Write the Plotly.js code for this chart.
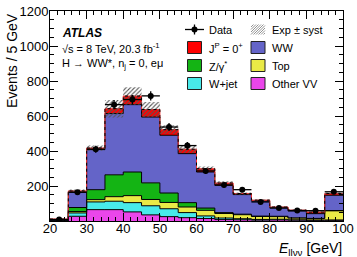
<!DOCTYPE html>
<html>
<head>
<meta charset="utf-8">
<script src="https://cdn.plot.ly/plotly-3.0.1.min.js"></script>
<style>
html,body{margin:0;padding:0;background:#fff;}
#chart{width:357px;height:257px;}
</style>
</head>
<body>
<div id="chart"></div>
<script>
// ---- data (Events / 5 GeV) ----
const binLow   = [20, 25, 30, 35, 40, 45, 50, 55, 60, 65, 70, 75, 80, 85, 90, 95];
const binWidth = 5;
const otherVV  = [2, 27, 65, 65, 52, 35, 25, 19, 14, 8, 7, 5, 6, 5, 4, 4];
const wjet     = [1, 19, 44, 48, 53, 52, 45, 29, 15, 9, 6, 4, 4, 2, 2, 2];
const topq     = [0.5, 8, 13, 26, 40, 36, 36, 32, 32, 26, 23, 17, 15, 10, 8, 52];
const zgamma   = [1.5, 23, 57, 125, 135, 95, 54, 25, 13, 5, 3, 2, 2, 1, 1, 2];
const ww       = [5, 89, 229, 350, 385, 376, 330, 280, 206, 156, 112, 86, 49, 39, 27, 87];
const sigJP    = [1, 6, 9, 28, 49, 43, 32, 25, 19, 13, 6, 5, 4, 5, 9, 10];
const dataVals = [8, 164, 410, 665, 694, 715, 537, 431, 286, 206, 179, 109, 74, 60, 59, 167];
const dataErr  = [3, 13, 20, 26, 26, 27, 23, 21, 17, 14, 13, 10, 9, 8, 8, 13];
const systErr  = [2, 8, 15, 50, 50, 43, 25, 22, 13, 10, 6, 4, 3, 3, 3, 6];
const xTickVals = [20, 30, 40, 50, 60, 70, 80, 90, 100];
const yTickVals = [0, 200, 400, 600, 800, 1000, 1200];
const yTickText = ['', '200', '400', '600', '800', '1000', '1200'];

const FONT = 'Liberation Sans, Arial, Helvetica, sans-serif';
const n = binLow.length;
const xStep = binLow.concat([binLow[n - 1] + binWidth]);
const ext = a => a.concat([a[a.length - 1]]);

function stackTrace(vals, color, lineColor) {
  return {
    x: xStep, y: ext(vals), type: 'scatter', mode: 'lines',
    stackgroup: 'bkg',
    line: {shape: 'hv', color: lineColor || '#000', width: 1},
    fillcolor: color, hoverinfo: 'skip'
  };
}

const total = binLow.map((_, i) => otherVV[i] + wjet[i] + topq[i] + zgamma[i] + ww[i] + sigJP[i]);
const bandLo = total.map((t, i) => t - systErr[i]);
const bandHi = total.map((t, i) => t + systErr[i]);
const centers = binLow.map(b => b + binWidth / 2);

const traces = [
  stackTrace(otherVV, '#ea46ea'),
  stackTrace(wjet, '#48eaea'),
  stackTrace(topq, '#eaea46'),
  stackTrace(zgamma, '#14b414'),
  stackTrace(ww, '#6464c8'),
  stackTrace(sigJP, '#ff0000', '#ff3030'),
  {x: xStep, y: ext(bandLo), type: 'scatter', mode: 'lines',
   line: {shape: 'hv', width: 0, color: 'rgba(0,0,0,0)'}, hoverinfo: 'skip'},
  {x: xStep, y: ext(bandHi), type: 'scatter', mode: 'lines', fill: 'tonexty',
   fillcolor: 'rgba(0,0,0,0)',
   fillpattern: {shape: '/', fgcolor: '#555', bgcolor: 'rgba(0,0,0,0)', size: 3, solidity: 0.35},
   line: {shape: 'hv', width: 0, color: 'rgba(0,0,0,0)'}, hoverinfo: 'skip'},
  {x: xStep, y: ext(total), type: 'scatter', mode: 'lines',
   line: {shape: 'hv', width: 1, color: '#000', dash: 'dot'}, hoverinfo: 'skip'},
  {x: centers, y: dataVals, type: 'scatter', mode: 'markers',
   marker: {color: '#000', size: 6},
   error_x: {type: 'constant', value: binWidth / 2, color: '#000', thickness: 1.3, width: 0},
   error_y: {type: 'data', array: dataErr, color: '#000', thickness: 1.3, width: 0},
   hoverinfo: 'skip'}
];

// ---- layout helpers (pixel -> paper) ----
const L = 50, R = 14, T = 11, B = 36, W = 357, H = 257;
const PW = W - L - R, PH = H - T - B;
const px = x => (x - L) / PW;
const py = y => (H - B - y) / PH;

const shapes = [];
const annotations = [];
function box(x0, yc, color) {
  shapes.push({type: 'rect', xref: 'paper', yref: 'paper',
    x0: px(x0), x1: px(x0 + 14), y0: py(yc + 6), y1: py(yc - 6),
    fillcolor: color, line: {color: '#222', width: 1}});
}
function label(x, yc, text) {
  annotations.push({xref: 'paper', yref: 'paper', x: px(x), y: py(yc),
    xanchor: 'left', yanchor: 'middle', showarrow: false, text: text,
    font: {family: FONT, size: 11, color: '#000'}});
}
const c1 = 187.5, c2 = 251, t1 = 206.5, t2 = 270;
const rows = [29.5, 47.5, 65.5, 83.5];
// Data symbol
shapes.push({type: 'line', xref: 'paper', yref: 'paper', x0: px(185), x1: px(204), y0: py(rows[0]), y1: py(rows[0]), line: {color: '#000', width: 1.3}});
shapes.push({type: 'line', xref: 'paper', yref: 'paper', x0: px(194.5), x1: px(194.5), y0: py(rows[0] - 5), y1: py(rows[0] + 5), line: {color: '#000', width: 1.3}});
shapes.push({type: 'circle', xref: 'paper', yref: 'paper', x0: px(191.5), x1: px(197.5), y0: py(rows[0] + 3), y1: py(rows[0] - 3), fillcolor: '#000', line: {color: '#000', width: 0}});
label(t1, rows[0], 'Data');
// Exp +- syst hatch symbol
(function () {
  const x0 = c2, x1 = c2 + 14, ytop = rows[0] - 5, ybot = rows[0] + 5, h = ybot - ytop;
  for (let k = -h; k < 14; k += 2.5) {
    let xa = x0 + k, ya = ybot, xb = x0 + k + h, yb = ytop;
    if (xa < x0) { ya = ybot - (x0 - xa); xa = x0; }
    if (xb > x1) { yb = ytop + (xb - x1); xb = x1; }
    shapes.push({type: 'line', xref: 'paper', yref: 'paper', x0: px(xa), x1: px(xb), y0: py(ya), y1: py(yb), line: {color: '#777', width: 0.8}});
  }
})();
label(t2, rows[0], 'Exp ± syst');
box(c1, rows[1], '#ff0000'); label(t1, rows[1], 'J<sup>P</sup> = 0<sup>+</sup>');
box(c2, rows[1], '#6464c8'); label(t2, rows[1], 'WW');
box(c1, rows[2], '#14b414'); label(t1, rows[2], 'Z/γ<sup>*</sup>');
box(c2, rows[2], '#eaea46'); label(t2, rows[2], 'Top');
box(c1, rows[3], '#48eaea'); label(t1, rows[3], 'W+jet');
box(c2, rows[3], '#ea46ea'); label(t2, rows[3], 'Other VV');

// ATLAS labels
annotations.push({xref: 'paper', yref: 'paper', x: px(60), y: py(33), xanchor: 'left', yanchor: 'middle', showarrow: false,
  text: '<b><i>ATLAS</i></b>', font: {family: FONT, size: 12, color: '#000'}});
annotations.push({xref: 'paper', yref: 'paper', x: px(60), y: py(48), xanchor: 'left', yanchor: 'middle', showarrow: false,
  text: '√s = 8 TeV, 20.3 fb<sup>-1</sup>', font: {family: FONT, size: 11, color: '#000'}});
annotations.push({xref: 'paper', yref: 'paper', x: px(60), y: py(64), xanchor: 'left', yanchor: 'middle', showarrow: false,
  text: 'H → WW*, n<sub>j</sub> = 0, eμ', font: {family: FONT, size: 11, color: '#000'}});
// axis titles
annotations.push({xref: 'paper', yref: 'paper', x: px(12), y: py(61), xanchor: 'center', yanchor: 'middle', showarrow: false,
  textangle: -90, text: 'Events / 5 GeV', font: {family: FONT, size: 14, color: '#000'}});
annotations.push({xref: 'paper', yref: 'paper', x: 1.003, y: py(249), xanchor: 'right', yanchor: 'middle', showarrow: false,
  text: '<i>E</i><sub>llνν</sub> [GeV]', font: {family: FONT, size: 14, color: '#000'}});

const layout = {
  width: W, height: H,
  margin: {l: L, r: R, t: T, b: B},
  paper_bgcolor: '#fff', plot_bgcolor: '#fff',
  showlegend: false, hovermode: false,
  font: {family: FONT, size: 13, color: '#000'},
  xaxis: {range: [20, 100], tickmode: 'array', tickvals: xTickVals,
    ticks: 'inside', ticklen: 8, tickwidth: 1, tickcolor: '#000', ticklabelstandoff: -5,
    minor: {tickmode: 'linear', tick0: 20, dtick: 2, ticks: 'inside', ticklen: 4, tickcolor: '#000', tickwidth: 1},
    showline: true, linecolor: '#000', linewidth: 1, mirror: 'allticks',
    showgrid: false, zeroline: false, tickfont: {family: FONT, size: 13, color: '#000'}},
  yaxis: {range: [0, 1200], tickmode: 'array', tickvals: yTickVals, ticktext: yTickText,
    ticks: 'inside', ticklen: 8, tickwidth: 1, tickcolor: '#000', ticklabelstandoff: -2,
    minor: {tickmode: 'linear', tick0: 0, dtick: 50, ticks: 'inside', ticklen: 4, tickcolor: '#000', tickwidth: 1},
    showline: true, linecolor: '#000', linewidth: 1, mirror: 'allticks',
    showgrid: false, zeroline: false, tickfont: {family: FONT, size: 13, color: '#000'}},
  shapes: shapes,
  annotations: annotations
};

Plotly.newPlot('chart', traces, layout, {staticPlot: true, displayModeBar: false});
</script>
</body>
</html>
